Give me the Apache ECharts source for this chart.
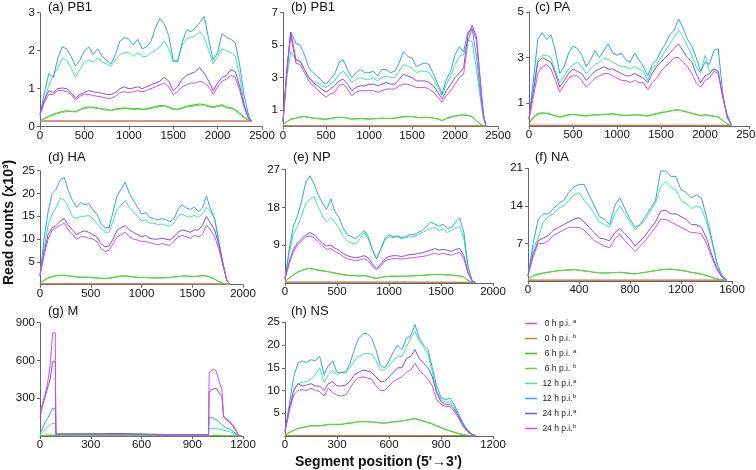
<!DOCTYPE html>
<html><head><meta charset="utf-8">
<script src="https://cdn.jsdelivr.net/npm/echarts@6/dist/echarts.min.js"></script>
<style>html,body{margin:0;padding:0;background:#fff}#chart{width:756px;height:470px}</style>
</head><body><div id="chart"></div>
<script>
// ---------- series meta ----------
const seriesKeys   = ['0a','0b','6a','6b','12a','12b','24a','24b'];
const seriesLabels = ['0 h p.i.','0 h p.i.','6 h p.i.','6 h p.i.','12 h p.i.','12 h p.i.','24 h p.i.','24 h p.i.'];
const seriesSup    = ['a','b','a','b','a','b','a','b'];

// ---------- tick labels ----------
const ticks2500 = [0,500,1000,1500,2000,2500];
const ticks2000 = [0,500,1000,1500,2000];
const ticks1600 = [0,400,800,1200,1600];
const ticks1200 = [0,300,600,900,1200];
const aYTicks = [0,1,2,3];
const bYTicks = [1,3,5,7];
const cYTicks = [1,3,5];
const dYTicks = [5,10,15,20,25];
const eYTicks = [9,18,27];
const fYTicks = [7,14,21];
const gYTicks = [300,600,900];
const hYTicks = [5,10,15,20,25];

// ---------- (a) PB1 ----------
const aX = [0,50,100,150,200,250,300,350,400,450,500,550,600,650,700,750,800,850,900,950,1000,1050,1100,1150,1200,1250,1300,1350,1400,1450,1500,1550,1600,1650,1700,1750,1800,1850,1900,1950,2000,2050,2100,2150,2200,2250,2300,2350,2380];
const a12b = [0.3,0.9,1.4,1.3,1.8,2.1,2.05,1.85,1.6,1.75,2.0,2.1,1.9,2.05,1.85,1.75,1.65,1.9,2.25,2.35,2.3,2.15,2.3,2.05,2.1,2.25,2.6,2.85,2.7,2.4,1.75,1.7,2.2,2.55,2.5,2.6,2.75,2.9,2.3,1.75,1.95,2.45,2.35,2.3,2.2,1.6,0.8,0.3,0.15];
const a12a = [0.3,0.7,1.1,1.35,1.55,1.8,1.75,1.55,1.3,1.5,1.7,1.75,1.7,1.8,1.7,1.65,1.6,1.75,1.9,1.95,1.95,1.85,1.95,1.85,1.85,1.95,2.0,2.1,2.25,2.05,1.7,1.75,2.15,2.3,2.35,2.4,2.5,2.35,2.0,1.65,1.85,2.05,2.0,1.95,1.85,1.3,0.6,0.25,0.15];
const a24a = [0.35,0.7,0.95,0.9,1.0,1.02,1.0,0.9,0.75,0.85,0.9,0.95,0.92,0.9,0.88,0.85,0.85,0.9,1.0,1.05,1.0,1.02,1.05,1.0,1.05,1.1,1.15,1.2,1.3,1.2,0.95,1.05,1.25,1.35,1.4,1.45,1.55,1.4,1.2,0.95,1.15,1.3,1.35,1.5,1.45,1.05,0.55,0.2,0.15];
const a24b = [0.3,0.65,0.85,0.85,0.95,0.95,0.92,0.85,0.7,0.8,0.85,0.85,0.82,0.8,0.78,0.75,0.75,0.8,0.9,0.92,0.9,0.92,0.95,0.92,0.95,1.0,1.05,1.1,1.15,1.05,0.85,0.92,1.05,1.1,1.15,1.15,1.2,1.15,1.05,0.85,1.05,1.2,1.25,1.35,1.3,0.95,0.5,0.2,0.15];
const a6a = [0.15,0.22,0.28,0.33,0.37,0.4,0.42,0.4,0.4,0.45,0.5,0.52,0.5,0.48,0.47,0.46,0.43,0.47,0.48,0.5,0.48,0.47,0.48,0.46,0.47,0.5,0.53,0.56,0.55,0.52,0.47,0.46,0.5,0.54,0.56,0.58,0.6,0.58,0.55,0.52,0.55,0.58,0.52,0.5,0.45,0.35,0.25,0.17,0.15];
const a6b = [0.15,0.2,0.27,0.3,0.35,0.37,0.4,0.41,0.38,0.44,0.48,0.5,0.52,0.5,0.45,0.44,0.42,0.45,0.46,0.48,0.47,0.45,0.46,0.45,0.45,0.48,0.5,0.53,0.55,0.5,0.45,0.45,0.48,0.52,0.53,0.55,0.57,0.57,0.52,0.5,0.53,0.55,0.5,0.48,0.43,0.33,0.23,0.16,0.15];
const aZX = [0,1200,2380];
const a0a = [0.15,0.15,0.15];
const a0b = [0.15,0.15,0.15];

// ---------- (b) PB1 ----------
const bX = [0,45,90,150,200,250,300,350,400,450,500,550,600,650,700,750,800,850,900,950,1000,1050,1100,1150,1200,1250,1300,1350,1400,1450,1500,1550,1600,1650,1700,1750,1800,1850,1900,1950,2000,2050,2100,2150,2200,2250,2300,2330,2360];
const b12b = [0.3,3.5,5.8,5.1,5.0,4.4,3.6,3.3,3.1,2.8,2.6,2.9,3.2,3.9,4.1,3.5,3.0,3.3,3.5,3.3,3.3,3.4,3.1,3.5,3.5,3.3,3.4,3.9,4.6,4.3,4.2,3.7,3.8,3.9,3.8,3.2,2.6,2.0,2.9,3.4,4.4,4.9,4.6,5.8,6.0,4.3,1.8,0.6,0.05];
const b12a = [0.3,3.0,4.6,4.1,4.0,3.5,3.0,2.8,2.7,2.5,2.4,2.6,2.8,3.2,3.4,3.1,2.7,2.9,3.0,2.9,2.9,3.0,2.8,3.0,3.1,3.0,3.0,3.4,3.8,3.7,3.6,3.3,3.4,3.4,3.3,2.9,2.4,1.9,2.6,3.1,3.8,4.3,4.4,5.3,5.2,3.5,1.5,0.5,0.05];
const b24a = [0.3,3.5,5.8,4.1,4.0,3.5,3.0,2.7,2.5,2.3,2.1,2.3,2.5,2.8,2.9,2.6,2.2,2.4,2.5,2.5,2.6,2.6,2.5,2.6,2.7,2.6,2.6,2.9,3.2,3.1,3.0,2.8,2.8,2.8,2.7,2.5,2.1,1.7,2.2,2.6,3.0,3.3,3.6,5.6,6.2,5.5,2.5,0.8,0.05];
const b24b = [0.3,3.3,5.6,3.9,3.8,3.3,2.8,2.5,2.3,2.0,1.8,2.0,2.1,2.5,2.6,2.3,1.9,2.1,2.2,2.2,2.2,2.2,2.1,2.2,2.3,2.3,2.3,2.5,2.6,2.6,2.5,2.4,2.4,2.4,2.3,2.1,1.8,1.5,1.9,2.2,2.6,3.0,3.2,5.2,6.0,5.3,2.3,0.7,0.05];
const b6a = [0.1,0.3,0.45,0.5,0.6,0.6,0.55,0.52,0.5,0.47,0.45,0.5,0.55,0.57,0.55,0.5,0.45,0.48,0.5,0.47,0.45,0.48,0.5,0.5,0.5,0.5,0.52,0.57,0.6,0.62,0.6,0.57,0.55,0.57,0.55,0.52,0.48,0.35,0.5,0.58,0.65,0.7,0.7,0.68,0.6,0.35,0.12,0.04,0.02];
const b6b = [0.1,0.28,0.42,0.52,0.57,0.62,0.58,0.5,0.48,0.45,0.43,0.48,0.52,0.55,0.57,0.52,0.47,0.46,0.48,0.48,0.47,0.46,0.48,0.52,0.49,0.48,0.5,0.55,0.58,0.6,0.62,0.58,0.53,0.55,0.57,0.5,0.46,0.37,0.47,0.55,0.62,0.67,0.72,0.7,0.62,0.37,0.13,0.04,0.02];
const bZX = [0,1200,2360];
const b0a = [0.04,0.04,0.04];
const b0b = [0.04,0.04,0.04];

// ---------- (c) PA ----------
const cX = [0,50,100,150,200,250,300,350,400,450,500,550,600,650,700,750,800,850,900,950,1000,1050,1100,1150,1200,1250,1300,1350,1400,1450,1500,1550,1600,1650,1700,1750,1800,1850,1900,1950,2000,2050,2100,2150,2200,2250,2300];
const c12b = [0.3,2.0,3.8,4.1,3.8,4.0,3.3,2.3,2.6,3.2,3.5,3.4,3.1,2.6,2.9,3.3,3.0,3.3,3.6,3.2,3.1,3.2,2.9,2.8,3.2,2.9,2.6,2.2,2.7,2.9,3.3,3.6,4.0,4.2,4.7,4.3,3.8,3.5,3.0,2.4,2.8,2.7,3.3,3.4,1.5,0.4,0.05];
const c12a = [0.3,1.7,2.9,3.1,3.1,3.0,2.4,1.9,2.2,2.5,2.7,2.8,2.6,2.3,2.5,2.7,2.8,3.0,2.9,2.8,2.7,2.6,2.6,2.5,2.6,2.5,2.4,2.0,2.5,2.7,3.0,3.3,3.6,3.9,4.2,3.9,3.5,3.1,2.6,2.3,3.1,2.4,2.5,2.4,1.3,0.35,0.05];
const c24a = [0.3,1.5,2.8,3.0,2.9,2.8,2.3,1.7,2.0,2.3,2.5,2.4,2.3,2.0,2.2,2.4,2.5,2.6,2.5,2.5,2.4,2.3,2.2,2.2,2.3,2.2,2.1,1.9,2.3,2.6,2.8,3.0,3.2,3.4,3.6,3.3,3.0,2.8,2.3,1.9,2.2,2.3,2.5,2.4,1.3,0.5,0.05];
const c24b = [0.3,1.3,2.3,2.6,2.7,2.5,2.0,1.5,1.8,2.1,2.2,2.2,2.0,1.7,1.9,2.1,2.2,2.3,2.3,2.2,2.1,2.0,2.0,1.9,2.0,1.9,1.9,1.6,1.9,2.1,2.4,2.6,2.8,3.0,3.0,2.8,2.6,2.3,1.9,1.7,2.0,2.1,2.4,2.3,1.3,0.5,0.05];
const c6a = [0.1,0.4,0.55,0.58,0.55,0.5,0.45,0.38,0.45,0.5,0.5,0.48,0.45,0.45,0.48,0.5,0.48,0.5,0.52,0.55,0.5,0.47,0.47,0.48,0.5,0.48,0.45,0.45,0.5,0.55,0.6,0.62,0.65,0.7,0.72,0.65,0.6,0.55,0.5,0.45,0.5,0.45,0.42,0.4,0.25,0.1,0.02];
const c6b = [0.1,0.35,0.5,0.55,0.57,0.52,0.47,0.4,0.42,0.47,0.52,0.5,0.47,0.43,0.46,0.48,0.5,0.52,0.5,0.52,0.52,0.49,0.45,0.46,0.48,0.5,0.47,0.43,0.48,0.52,0.57,0.6,0.67,0.68,0.7,0.67,0.62,0.57,0.52,0.47,0.48,0.47,0.44,0.38,0.24,0.1,0.02];
const cZX = [0,1200,2300];
const c0a = [0.03,0.03,0.03];
const c0b = [0.03,0.03,0.03];

// ---------- (d) HA ----------
const dX = [0,40,80,120,160,200,240,280,320,360,400,440,480,520,560,600,640,680,720,760,800,840,880,920,960,1000,1040,1080,1120,1160,1200,1240,1280,1320,1360,1400,1440,1480,1520,1560,1600,1640,1680,1720,1760,1800,1840,1870];
const d12b = [2,10,16,20,21,23,23.5,20.5,18.5,17,18,17.5,17.8,16.5,15.5,13.5,12.5,12.5,16,19.5,21,22.5,20,18.5,17,15.5,15.8,14.8,14.5,14.2,14.5,14.3,13.8,14.5,16.5,17.5,16.8,16.5,17,16,16.8,19.5,16.5,14.5,9.5,4.5,1,0.1];
const d12a = [2,8,13,15.5,17,19,18.5,17,15,14.5,15,15,15.2,14.5,13.5,12.5,11.5,11.5,14,16.5,17.5,18.5,17,16,15,14,14.2,13.5,13.5,13.2,13.3,13,12.8,13.5,15,15.5,15,14.8,15.2,14.8,15.5,17,16,14.5,10,5,1,0.1];
const d24a = [2,7,11,12.5,13,14,14.5,13,12,11,11.5,11.8,11.5,11,10.5,9,8.3,8.5,10,12,12.5,13,12,11.5,11,10.5,10.8,10.2,10,10,10.2,10,9.8,10.5,11.5,12,11.8,11.5,12,12,13,15,13.5,12,9,5,1,0.1];
const d24b = [2,6.5,10,12,12.5,13,13.5,12,11,10,10.5,10.5,10.2,10,9.5,8,7.3,7.5,9,10.5,11,11.5,10.5,10,9.8,9.5,9.5,9.2,9,8.8,9,8.8,8.6,9.5,10.5,10.8,10.5,10.2,10.8,10.5,11,13,12,10.5,8,4.5,1,0.1];
const d6a = [0.3,1,1.5,1.8,2,2.1,2,2,1.8,1.7,1.6,1.7,1.6,1.5,1.5,1.4,1.4,1.4,1.6,1.8,1.9,1.9,1.8,1.7,1.6,1.6,1.6,1.5,1.5,1.5,1.5,1.5,1.6,1.7,1.8,1.9,1.9,1.8,1.8,1.9,2,1.9,1.6,1.2,0.7,0.3,0.1,0.05];
const d6b = [0.3,0.9,1.4,1.7,1.9,2.0,2.1,1.9,1.85,1.75,1.65,1.6,1.65,1.55,1.45,1.45,1.35,1.45,1.55,1.7,1.85,1.95,1.85,1.75,1.65,1.55,1.55,1.55,1.45,1.5,1.45,1.55,1.55,1.65,1.75,1.85,1.95,1.85,1.75,1.85,1.95,1.95,1.7,1.3,0.75,0.35,0.1,0.05];
const dZX = [0,900,1870];
const d0a = [0.2,0.2,0.15];
const d0b = [0.2,0.2,0.15];

// ---------- (e) NP ----------
const eX = [0,40,80,120,160,200,240,280,320,360,400,440,480,520,560,600,640,680,720,760,800,840,880,920,960,1000,1040,1080,1120,1160,1200,1240,1280,1320,1360,1400,1440,1480,1520,1560,1600,1640,1680,1720,1760,1800,1830];
const e12b = [1,8,13.5,16,19.5,24,25.5,23.5,21,19,17.5,20,17,15.5,13,11.5,11,10.5,11.5,12.5,11,8,5.8,8,10.5,11.5,11,11.2,10.8,11,11.5,11.5,12,12.5,13.5,14.5,14,13.5,14,13,13.2,14.5,15.5,12,4,0.5,0.1];
const e12a = [1,7,11.5,13.5,16,19,20,20.5,18,16,14.5,15.5,14.5,13,11,10,9.5,9.2,10.5,12,10.5,7.8,5.7,8,10.2,11,10.8,11,10.5,10.8,11,11,11.5,12,12.5,13,13.2,12.5,12.8,12,12.5,13,13.5,10.5,3.5,0.5,0.1];
const e24a = [1,5,8,9.5,10.5,11.5,12,11.5,10.5,9.5,8.8,9,8.3,7.8,7,6.5,6.2,6,6.2,6.5,6,4.5,3.5,4.5,5.8,6.3,6.5,6.5,6.3,6.5,6.8,6.8,7,7.2,7.5,7.8,8.2,7.8,8,7.8,7.5,8,8.2,6.5,2.5,0.5,0.1];
const e24b = [1,4.5,7.5,9,10,11,11.2,10.8,9.8,8.8,8,8.2,7.5,7,6.3,5.8,5.5,5.3,5.5,5.8,5.3,4,3.2,4,5.2,5.6,5.8,5.8,5.7,5.8,6,6,6.2,6.3,6.5,6.8,7,6.8,7,6.8,6.6,7,7.3,5.8,2.2,0.5,0.1];
const e6a = [0.3,1.2,2,2.5,3,3.3,3.5,3.3,3.1,2.9,2.7,2.6,2.4,2.2,2,1.8,1.8,1.7,1.7,1.8,1.6,1.3,1.1,1.3,1.5,1.6,1.6,1.6,1.6,1.6,1.7,1.7,1.8,1.8,1.9,2,2,2,2,1.9,1.9,1.8,1.7,1.4,0.6,0.2,0.1];
const e6b = [0.3,1.1,1.9,2.6,2.9,3.4,3.4,3.2,3.0,2.8,2.8,2.5,2.3,2.1,1.9,1.9,1.7,1.8,1.65,1.7,1.55,1.25,1.15,1.25,1.45,1.55,1.65,1.55,1.65,1.55,1.65,1.75,1.75,1.85,1.85,1.95,2.05,1.95,2.05,1.85,1.95,1.75,1.65,1.35,0.55,0.2,0.1];
const eZX = [0,900,1830];
const e0a = [0.2,0.2,0.15];
const e0b = [0.2,0.2,0.15];

// ---------- (f) NA ----------
const fX = [0,40,80,120,160,200,240,280,320,360,400,440,480,520,560,600,640,680,720,760,800,840,880,920,960,1000,1040,1080,1120,1160,1200,1240,1280,1320,1360,1400,1440,1480,1520,1560];
const f12b = [1,7,11.5,12.5,12.5,13.5,14.5,15,16.5,17.5,18,18,16,14,12,11.5,10.5,14,15.5,13.5,11.5,10,10.5,12,13.5,15,20.5,20.5,19.5,19.5,17,16.5,15.5,16,15.5,12,8,3.5,1,0.2];
const f12a = [1,6,8,11,12,12.5,13.5,14,15,16,16.5,15,14,12.5,11,10.5,10,12.5,14,12.5,11,9.5,10.5,11.5,13,14.5,17.5,18.5,17.5,17,15,14.5,13.5,14,13.5,11,7.5,3.5,1,0.2];
const f24a = [1,5,7.5,8,8.5,9.5,10,10.5,11,11.5,11.8,11,10,9,8,7.8,7.5,9,9.8,8.8,7.8,6.5,7.5,8.5,9.8,11,13,13.2,12.5,12.5,12,11.5,10.5,10.5,10,8,5,2.5,0.8,0.2];
const f24b = [1,4.5,7,7,7.5,8.5,9,9.5,10,10,10,9.5,8.5,7.5,7,6.5,6.2,7.8,8.8,7.5,6.5,5.5,6.5,7.5,8.8,10,11.5,11.5,11,10.5,10,9.5,9,9,8.8,7,4.5,2.2,0.7,0.2];
const f6a = [0.3,1,1.3,1.5,1.6,1.8,1.9,2,2.1,2.1,2,1.9,1.8,1.6,1.5,1.5,1.5,1.6,1.6,1.5,1.4,1.3,1.5,1.6,1.8,1.9,2.1,2.2,2.2,2.1,2,1.8,1.6,1.5,1.3,1,0.7,0.4,0.2,0.1];
const f6b = [0.3,0.9,1.2,1.4,1.7,1.75,1.95,1.95,2.0,2.15,2.05,1.85,1.75,1.65,1.55,1.45,1.55,1.55,1.65,1.55,1.45,1.35,1.45,1.65,1.75,1.95,2.05,2.15,2.25,2.05,1.95,1.85,1.65,1.45,1.25,1.05,0.7,0.4,0.2,0.1];
const fZX = [0,800,1560];
const f0a = [0.15,0.15,0.15];
const f0b = [0.15,0.15,0.15];

// ---------- (g) M ----------
const gX = [0,15,30,45,60,75,90,94,150,250,350,450,550,650,750,850,950,996,1000,1020,1040,1060,1075,1085,1100,1120,1140,1160,1175,1190];
const g24b = [190,260,330,420,560,820,820,15,12,12,12,12,12,10,8,8,8,8,500,530,520,430,370,160,140,120,90,40,5,0];
const g24a = [150,240,310,380,450,590,590,15,15,15,15,18,15,12,10,10,10,10,350,370,380,340,320,150,130,110,80,40,5,0];
const g12b = [20,60,110,140,180,220,220,15,18,18,18,20,18,15,12,12,12,12,150,145,130,110,90,80,65,55,40,15,3,0];
const g12a = [10,30,50,70,90,100,100,10,10,10,10,12,10,10,8,8,8,8,60,60,58,55,50,45,40,35,25,10,2,0];
const g6a = [2,4,5,6,6,6,6,4,4,4,4,4,4,4,3,3,3,3,5,5,5,5,5,4,4,3,3,2,1,0];
const g6b = [2,3,5,5,7,6,7,4,5,4,5,4,5,4,4,3,4,3,6,5,6,5,4,5,4,4,3,2,1,0];
const gZX = [0,600,1190];
const g0a = [2,2,2];
const g0b = [2,2,2];

// ---------- (h) NS ----------
const hX = [0,25,50,75,100,125,150,175,200,225,250,275,300,325,350,375,400,425,450,475,500,525,550,575,600,625,650,675,700,725,750,775,800,825,850,875,900,925,950,975,1000,1025,1050,1075,1100];
const h12b = [1,7,13,16,16.5,16.2,16.8,16.5,17.5,13.5,15.5,16.5,14,14,13.8,16,19,21.5,22.5,22.5,21.5,19,15.5,15,16.5,18.5,20,19,21.5,22,24.5,21.5,20,19,15,11,8.5,8,8.3,7,5,3,1.5,0.5,0.1];
const h12a = [1,6,10,11.5,11.8,12,12.5,13.5,15,11.8,13.5,14.5,13.5,14,14.2,15,16.5,17.5,18,18.2,18,16.5,14.5,14.5,15.5,16.5,17.5,17.5,19.5,21.5,23,21,19.5,18,14,10,8,7.5,7.5,6.5,4.5,2.8,1.3,0.4,0.1];
const h24a = [1,6,10,11.5,11,11.2,11.5,11,11,10,11.5,12,11,11,11.2,12,13.5,14,14.5,14.3,14,13,12,12,13,14,15,15,17,17.5,19,17,16,15,13,9.5,7.5,7,7,6,4.5,2.5,1.2,0.4,0.1];
const h24b = [1,5.5,9,10,10.2,10,10.5,10,9.8,8.8,10.5,9.5,9,8.8,9,10.5,12,12.8,13,12.8,12.5,11,10,10,11,12,12.5,13,14,14.5,16,14.5,13.5,12.5,11,8,7,6.5,6.5,5.5,4,2.2,1,0.3,0.1];
const h6a = [0.2,0.8,1.3,1.6,1.9,2.1,2.2,2.3,2.2,2.4,2.5,2.6,2.5,2.6,2.7,2.8,3,3.1,3.2,3.1,3.1,3,2.9,2.8,3,3.1,3.2,3.3,3.5,3.7,3.8,3.5,3.2,3,2.6,2.2,1.8,1.4,1.1,0.8,0.5,0.3,0.15,0.05,0];
const h6b = [0.2,0.7,1.2,1.7,1.8,2.0,2.3,2.2,2.3,2.3,2.6,2.5,2.6,2.5,2.8,2.9,2.9,3.2,3.1,3.2,3.0,3.1,2.8,2.9,2.9,3.2,3.1,3.4,3.4,3.6,3.9,3.6,3.3,2.9,2.7,2.3,1.9,1.5,1.2,0.9,0.6,0.35,0.2,0.08,0];
const hZX = [0,550,1100];
const h0a = [0.12,0.12,0.1];
const h0b = [0.12,0.12,0.1];

// ---------- styles ----------
const COLORS = ['#e8567f','#b5883c','#3fbb22','#58db48','#3ee89c','#31a4e6','#7b50e3','#d94ae6'];
const FONT = '"Liberation Sans", Arial, sans-serif';

const panels = [
  {title:'(a) PB1', tl:48, tt:1,   g:{left:40, top:12.7, width:222, height:114}, xMax:2500, yMax:3,  xt:ticks2500, yt:aYTicks, x:aX, zx:aZX, d:[a0a,a0b,a6a,a6b,a12a,a12b,a24a,a24b]},
  {title:'(b) PB1', tl:291, tt:1,  g:{left:283, top:12.5, width:215, height:114}, xMax:2500, yMax:7, xt:ticks2500, yt:bYTicks, x:bX, zx:bZX, d:[b0a,b0b,b6a,b6b,b12a,b12b,b24a,b24b]},
  {title:'(c) PA',  tl:535, tt:1,  g:{left:529, top:12, width:220, height:114},   xMax:2500, yMax:5, xt:ticks2500, yt:cYTicks, x:cX, zx:cZX, d:[c0a,c0b,c6a,c6b,c12a,c12b,c24a,c24b]},
  {title:'(d) HA',  tl:48, tt:151, g:{left:40, top:170.7, width:203, height:114}, xMax:2000, yMax:25, xt:ticks2000, yt:dYTicks, x:dX, zx:dZX, d:[d0a,d0b,d6a,d6b,d12a,d12b,d24a,d24b]},
  {title:'(e) NP',  tl:293, tt:151,g:{left:285, top:169.5, width:208, height:113.5}, xMax:2000, yMax:27, xt:ticks2000, yt:eYTicks, x:eX, zx:eZX, d:[e0a,e0b,e6a,e6b,e12a,e12b,e24a,e24b]},
  {title:'(f) NA',  tl:535, tt:151,g:{left:528, top:168.3, width:204, height:112.7}, xMax:1600, yMax:21, xt:ticks1600, yt:fYTicks, x:fX, zx:fZX, d:[f0a,f0b,f6a,f6b,f12a,f12b,f24a,f24b]},
  {title:'(g) M',   tl:48, tt:305, g:{left:40, top:322.7, width:203, height:113.3}, xMax:1200, yMax:900, xt:ticks1200, yt:gYTicks, x:gX, zx:gZX, d:[g0a,g0b,g6a,g6b,g12a,g12b,g24a,g24b]},
  {title:'(h) NS',  tl:291, tt:305,g:{left:285, top:322.3, width:208, height:113.7}, xMax:1200, yMax:25, xt:ticks1200, yt:hYTicks, x:hX, zx:hZX, d:[h0a,h0b,h6a,h6b,h12a,h12b,h24a,h24b]}
];

const grids = [], xAxes = [], yAxes = [], titles = [], series = [];
const names = seriesKeys.map((k,i) => seriesLabels[i] + '^' + seriesSup[i]);
const plain = v => String(v);
const axisCommon = {
  axisLine:{show:true, lineStyle:{color:'#666', width:1}},
  splitLine:{show:false},
};
panels.forEach((p, i) => {
  grids.push(Object.assign({outerBoundsMode:'none', containLabel:false}, p.g));
  xAxes.push(Object.assign({}, axisCommon, {
    type:'value', gridIndex:i, min:0, max:p.xMax,
    axisTick:{show:true, length:3, customValues:p.xt, lineStyle:{color:'#666'}},
    axisLabel:{customValues:p.xt, formatter:plain, margin:3, fontSize:11.5, color:'#111', fontFamily:FONT}
  }));
  yAxes.push(Object.assign({}, axisCommon, {
    type:'value', gridIndex:i, min:0, max:p.yMax,
    axisTick:{show:true, length:3, customValues:p.yt, lineStyle:{color:'#666'}},
    axisLabel:{customValues:p.yt, formatter:plain, margin:5, fontSize:11.5, color:'#111', fontFamily:FONT}
  }));
  titles.push({text:p.title, left:p.tl, top:p.tt, padding:0,
    textStyle:{fontSize:13, fontWeight:'normal', color:'#111', fontFamily:FONT}});
  seriesKeys.forEach((k, j) => {
    const xs = j < 2 ? p.zx : p.x;
    const vals = p.d[j];
    const n = Math.min(xs.length, vals.length);
    const data = [];
    for (let m = 0; m < n; m++) data.push([xs[m], vals[m]]);
    series.push({
      type:'line', name:names[j], xAxisIndex:i, yAxisIndex:i, data:data,
      showSymbol:false, symbol:'none', silent:true, animation:false,
      color:COLORS[j], itemStyle:{color:COLORS[j]},
      lineStyle:{width:1, color:COLORS[j]}, z:2+j
    });
  });
});

const chart = echarts.init(document.getElementById('chart'), null, {renderer:'canvas'});
chart.setOption({
  animation:false,
  backgroundColor:'#fff',
  textStyle:{fontFamily:FONT},
  title:titles,
  grid:grids, xAxis:xAxes, yAxis:yAxes, series:series,
  legend:{
    orient:'vertical', left:520, top:313, itemWidth:12, itemHeight:1.5, itemGap:4,
    icon:'rect', data:names, selectedMode:false,
    formatter: function(n){ const s = n.split('^'); return '{n|' + s[0] + '}{s|' + s[1] + '}'; },
    textStyle:{ rich:{
      n:{fontSize:8.5, width:31, align:'right', color:'#222', fontFamily:FONT, lineHeight:12},
      s:{fontSize:6, color:'#222', fontFamily:FONT, lineHeight:12, padding:[0,0,5,0]}
    }}
  },
  graphic:[
    {type:'text', rotation:Math.PI/2, x:2, y:285,
     style:{text:'Read counts (x10\u00B3)', font:'bold 14px ' + FONT, fill:'#111'}},
    {type:'text', left:295, top:455,
     style:{text:"Segment position (5'\u21923')", font:'bold 14px ' + FONT, fill:'#111'}}
  ]
});
</script></body></html>
